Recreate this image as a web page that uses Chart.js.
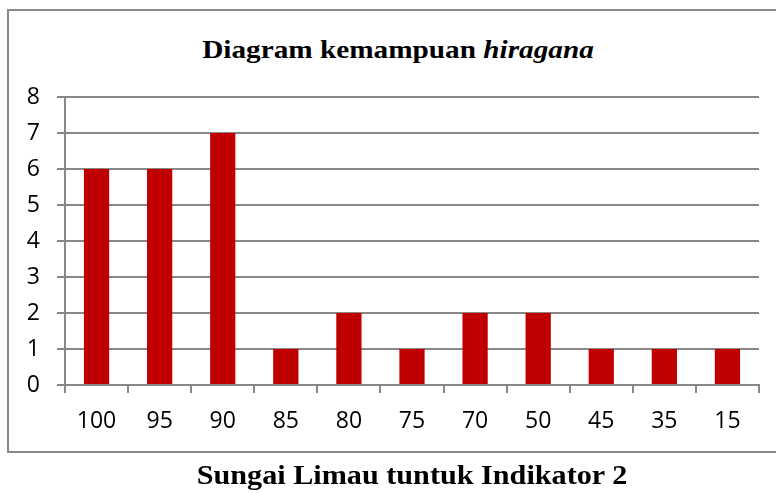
<!DOCTYPE html>
<html>
<head>
<meta charset="utf-8">
<script src="https://cdn.jsdelivr.net/npm/chart.js@4/dist/chart.umd.min.js"></script>
<style>
    body { margin: 0; background: #fff; }
    #wrap { position: relative; width: 776px; height: 493px; overflow: hidden; }
    #frame {
        position: absolute; left: 7px; top: 9px; width: 790px; height: 444px;
        border: 2px solid #888; box-sizing: border-box;
    }
    #title {
        position: absolute; left: 0; width: 796px; top: 37px;
        text-align: center; font: bold 25px 'Liberation Serif', serif; line-height: 1;
        color: #000; white-space: nowrap;
        transform: scaleX(1.17); transform-origin: 398px 0;
    }
    #caption {
        position: absolute; left: 0; width: 824px; top: 461px;
        text-align: center; font: bold 28px 'Liberation Serif', serif; line-height: 1;
        color: #000; white-space: nowrap;
        transform: scaleX(1.078); transform-origin: 412px 0;
    }
    canvas { position: absolute; left: 0; top: 0; }
</style>
</head>
<body>
<div id="wrap">
    <div id="frame"></div>
    <div id="title">Diagram kemampuan <i>hiragana</i></div>
    <canvas id="chart" width="776" height="493"></canvas>
    <div id="caption">Sungai Limau tuntuk Indikator 2</div>
</div>
<script>
// Data
const categories = ['100', '95', '90', '85', '80', '75', '70', '50', '45', '35', '15'];
const counts = [6, 6, 7, 1, 2, 1, 2, 2, 1, 1, 1];
const yMin = 0;
const yMax = 8;
const yStep = 1;

const axisGray = '#888';
const tickFont = { family: "'Open Sans', sans-serif", size: 23 };

new Chart(document.getElementById('chart'), {
    type: 'bar',
    data: {
        labels: categories,
        datasets: [{
            data: counts,
            backgroundColor: '#C00000',
            borderWidth: 0,
            barPercentage: 0.4,
            categoryPercentage: 1.0
        }]
    },
    options: {
        responsive: false,
        animation: false,
        events: [],
        layout: {
            padding: { left: 0, top: 97, right: 17, bottom: 48 }
        },
        plugins: {
            legend: { display: false },
            title: { display: false },
            tooltip: { enabled: false }
        },
        scales: {
            x: {
                offset: true,
                grid: {
                    display: true,
                    offset: true,
                    drawOnChartArea: false,
                    drawTicks: true,
                    tickLength: 8,
                    color: axisGray,
                    lineWidth: 2
                },
                border: { display: true, color: axisGray, width: 2 },
                ticks: {
                    color: '#000',
                    font: tickFont,
                    padding: 15,
                    maxRotation: 0,
                    autoSkip: false
                },
                afterFit: function(scale) { scale.height = 60; }
            },
            y: {
                min: yMin,
                max: yMax,
                grid: {
                    color: axisGray,
                    lineWidth: 2,
                    drawTicks: true,
                    tickLength: 8
                },
                border: { display: true, color: axisGray, width: 2 },
                ticks: {
                    stepSize: yStep,
                    color: '#000',
                    font: tickFont,
                    padding: 17
                },
                afterFit: function(scale) { scale.width = 65; }
            }
        }
    }
});
</script>
</body>
</html>
